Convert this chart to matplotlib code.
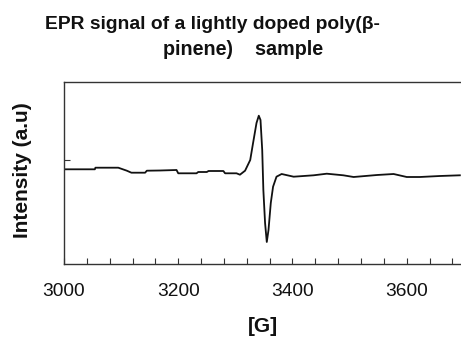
import matplotlib as mpl
mpl.use('Agg')
import matplotlib.pyplot as plt
from matplotlib.ticker import MultipleLocator, NullFormatter
import numpy as np

mpl.rc('font', family=['Liberation Sans', 'DejaVu Sans'])

# EPR spectrum (field in G, intensity in a.u.)
field = [3000, 3054, 3055, 3095, 3110, 3118, 3142, 3145, 3168, 3197, 3200,
         3232, 3235, 3250, 3253, 3279, 3282, 3302, 3308, 3317, 3326, 3331,
         3337, 3341, 3344, 3347, 3349, 3352, 3355, 3358, 3362, 3366, 3372,
         3381, 3402, 3437, 3460, 3489, 3507, 3548, 3577, 3600, 3623, 3658,
         3693]
intensity = [-9.3, -9.3, -7.7, -7.7, -10.7, -12.7, -12.7, -10.7, -10.5, -10,
             -13.3, -13.3, -12, -12, -11, -11, -13.3, -13.3, -14.7, -10.7, 0,
             17, 37, 44.3, 40, 10, -30, -63, -82, -70, -43, -26.7, -16.7, -14,
             -16.7, -15.3, -13.7, -15.3, -17, -15, -14, -17, -17, -16, -15.3]
xticks = [3000, 3200, 3400, 3600]

fig = plt.figure(figsize=(4.61, 3.37), dpi=100)
ax = fig.add_axes([64/461, 1 - 264/337, 1 - 64/461, (264 - 82)/337])
ax.plot(field, intensity, color='#111111', lw=1.3)

ax.set_xlim(3000, 3695)
ax.set_ylim(-104, 78)
ax.set_xticks(xticks)
ax.xaxis.set_minor_locator(MultipleLocator(40))
ax.set_yticks([0])
ax.yaxis.set_major_formatter(NullFormatter())
ax.tick_params(which='both', direction='in', length=4, width=0.8, color='#333')
ax.tick_params(axis='x', labelsize=13.8, pad=14, labelcolor='#111')
ax.spines['right'].set_visible(False)
for s in ['left', 'top', 'bottom']:
    ax.spines[s].set_color('#333')
    ax.spines[s].set_linewidth(1.0)

fig.text(212/461, 1 - 29/337, 'EPR signal of a lightly doped poly(β-',
         ha='center', va='baseline', fontsize=13.9, fontweight='bold', color='#111')
fig.text(243/461, 1 - 55/337, 'pinene)    sample',
         ha='center', va='baseline', fontsize=14.2, fontweight='bold', color='#111')
fig.text(22/461, 1 - 170/337, 'Intensity (a.u)', rotation=90,
         ha='center', va='center', fontsize=15, fontweight='bold', color='#111')
fig.text(263/461, 1 - 326/337, '[G]',
         ha='center', va='center', fontsize=15, fontweight='bold', color='#111')

fig.savefig('out.png', dpi=100)
